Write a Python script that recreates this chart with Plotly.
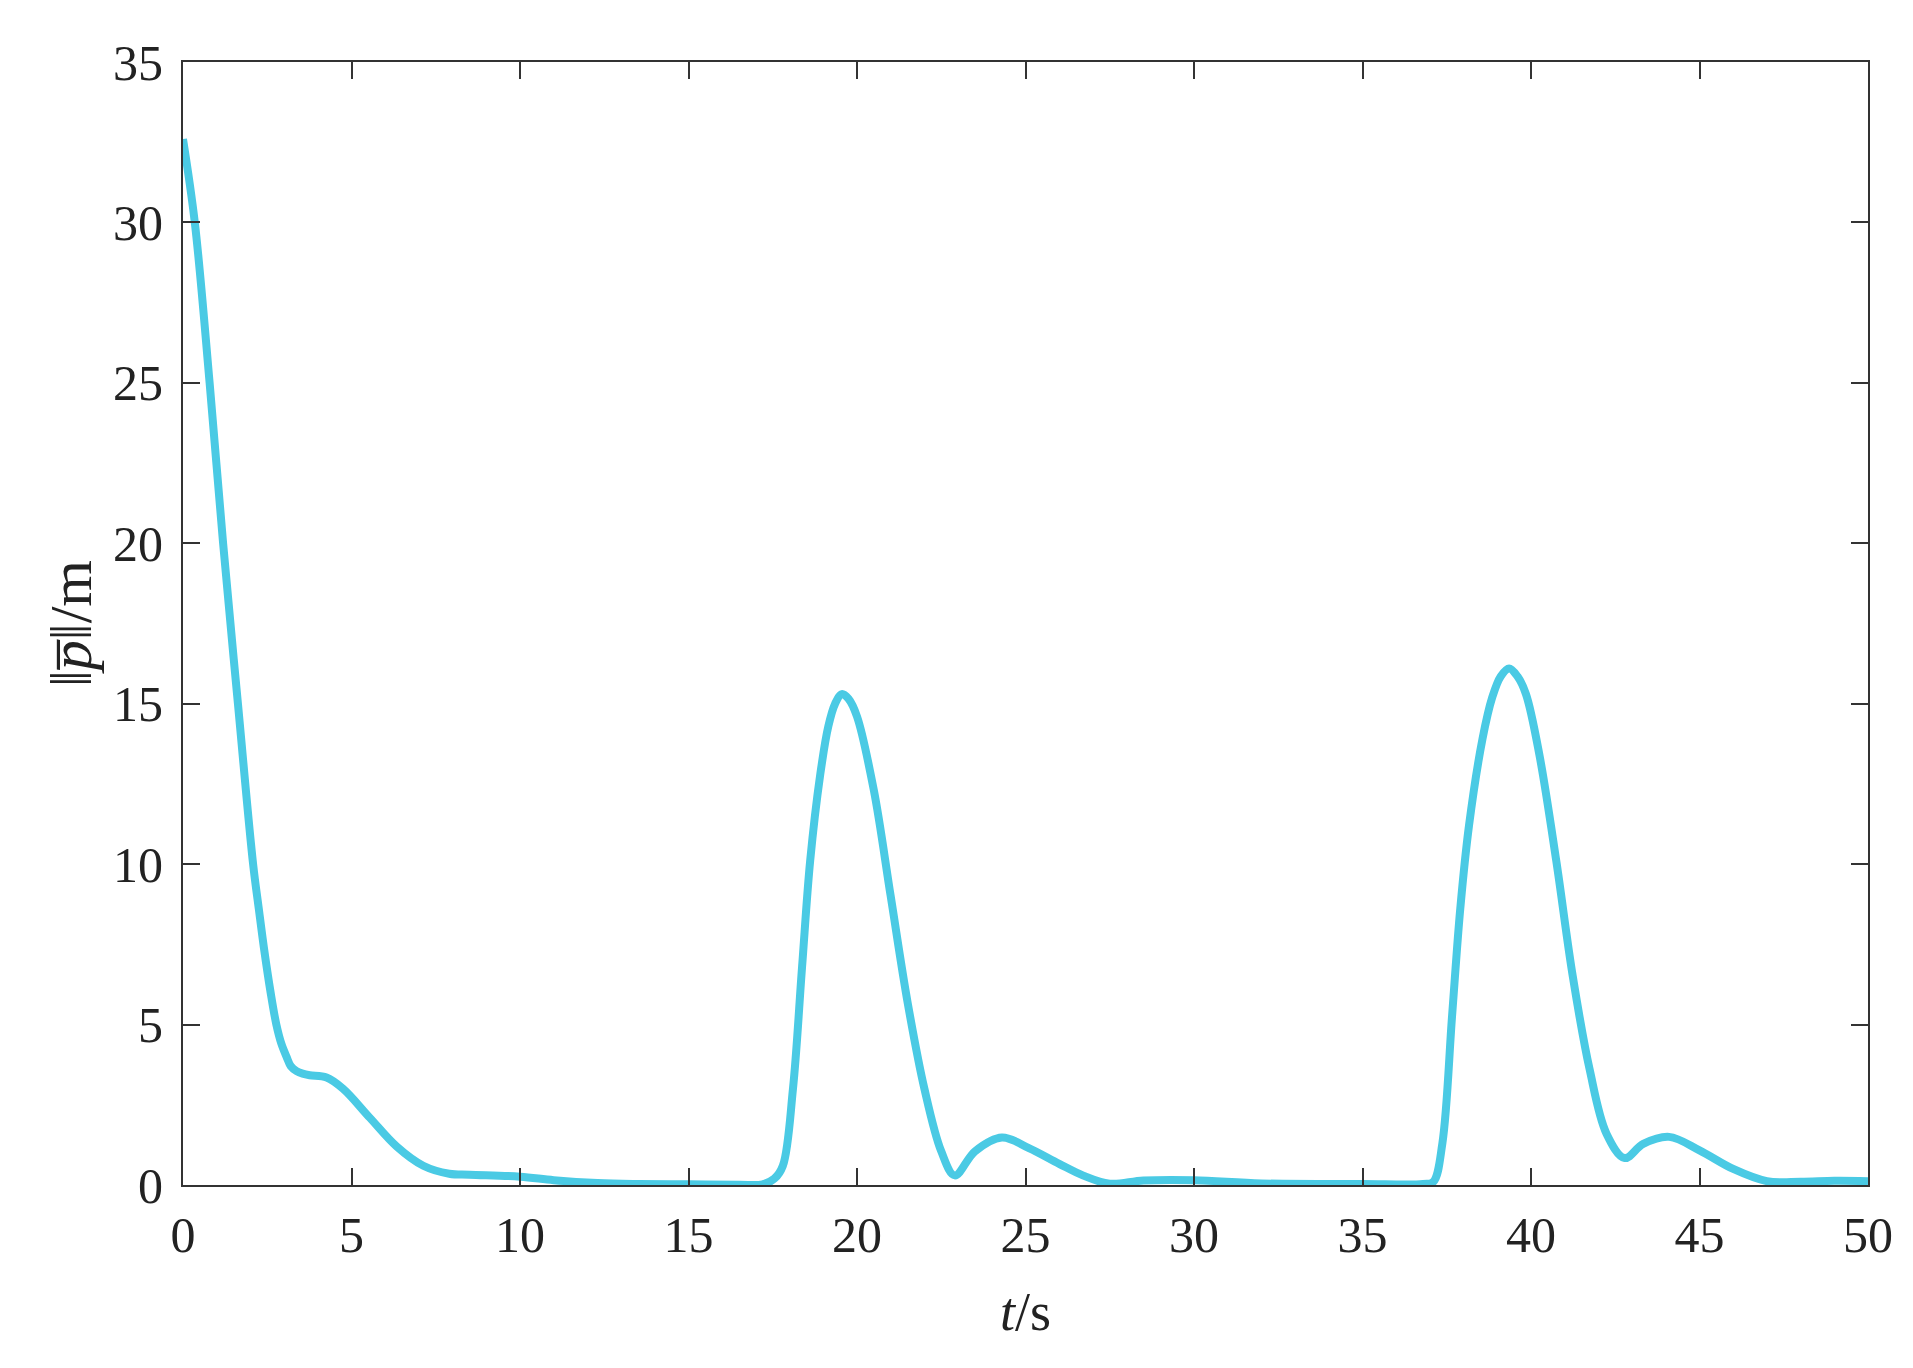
import plotly.graph_objects as go

# time (s) and norm of mean position error (m)
t_s = [0, 0.35, 0.79, 1.19, 1.63, 2.08, 2.25, 2.4, 2.6, 2.77, 2.92, 3.07, 3.2, 3.37,
       3.55, 3.76, 4.26, 4.75, 5.54, 6.34, 7.13, 7.9, 8.5, 10.0, 11.0, 12.3, 13.5,
       15.0, 16.5, 17.2, 17.55, 17.8, 18.1, 18.37, 18.61, 18.91, 19.15, 19.35,
       19.55, 19.75, 20.0, 20.5, 21.0, 21.5, 22.0, 22.5, 22.9, 23.5, 24.3, 25.1,
       26.0, 26.7, 27.5, 28.5, 30.0, 32.0, 35.0, 36.8, 37.1, 37.37, 37.66, 37.9,
       38.16, 38.56, 38.85, 39.1, 39.35, 39.6, 39.85, 40.25, 40.75, 41.24, 41.74,
       42.24, 42.78, 43.33, 44.1, 45.0, 46.0, 47.0, 48.0, 49.0, 50.0]
p_norm = [32.6, 30.0, 25.0, 20.0, 15.0, 10.0, 8.6, 7.4, 6.0, 5.0, 4.4, 4.0, 3.7, 3.55,
          3.47, 3.42, 3.35, 3.0, 2.1, 1.2, 0.6, 0.35, 0.32, 0.26, 0.15, 0.06, 0.03,
          0.02, 0.01, 0.02, 0.2, 0.6, 3.0, 6.8, 10.1, 12.8, 14.3, 15.0,
          15.3, 15.15, 14.6, 12.3, 9.0, 5.7, 3.0, 1.05, 0.3, 1.05, 1.48, 1.15,
          0.66, 0.3, 0.04, 0.14, 0.15, 0.05, 0.03, 0.03, 0.1, 1.3, 5.3, 8.6,
          11.2, 13.9, 15.2, 15.85, 16.1, 15.85, 15.3, 13.4, 10.1, 6.5, 3.6,
          1.6, 0.84, 1.28, 1.5, 1.08, 0.5, 0.12, 0.1, 0.13, 0.12]

x_ticks = [0, 5, 10, 15, 20, 25, 30, 35, 40, 45, 50]
y_ticks = [0, 5, 10, 15, 20, 25, 30, 35]

FONT = "Liberation Serif"
INK = "#222222"

fig = go.Figure()
fig.add_trace(go.Scatter(x=t_s, y=p_norm, mode="lines",
                         line=dict(color="#4ACAE4", width=8, shape="spline", smoothing=1.0),
                         showlegend=False))

axis_common = dict(showline=True, linecolor="#333333", linewidth=2, mirror="ticks",
                   ticks="inside", ticklen=17, tickwidth=2, tickcolor="#333333",
                   showgrid=False, zeroline=False,
                   tickfont=dict(family=FONT, size=50, color=INK))

fig.update_xaxes(range=[0, 50], tickvals=x_ticks, ticklabelstandoff=5,
                 title=dict(text="<i>t</i>/s", font=dict(family=FONT, size=54, color=INK), standoff=30),
                 **axis_common)
fig.update_yaxes(range=[0, 35], tickvals=y_ticks, ticklabelstandoff=8,
                 title=dict(text="‖<i>p̅</i>‖/m", font=dict(family=FONT, size=60, color=INK), standoff=2),
                 **axis_common)

fig.update_layout(width=1913, height=1368, autosize=False,
                  margin=dict(l=175, r=53, t=54, b=191),
                  paper_bgcolor="white", plot_bgcolor="white")

fig.write_html("out.html")
